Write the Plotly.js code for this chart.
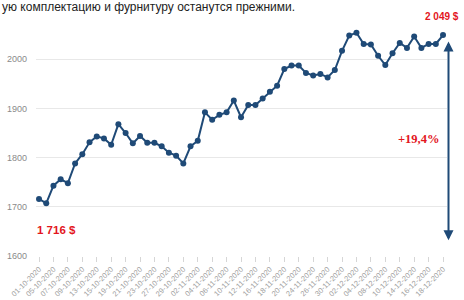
<!DOCTYPE html>
<html>
<head>
<meta charset="utf-8">
<script src="https://cdn.plot.ly/plotly-3.0.1.min.js"></script>
<style>html,body{margin:0;padding:0;background:#fff;}#chart{width:464px;height:300px;}</style>
</head>
<body>
<div id="chart"></div>
<script>
const dates = [
  "01-10-2020","02-10-2020","05-10-2020","06-10-2020","07-10-2020","08-10-2020","09-10-2020",
  "12-10-2020","13-10-2020","14-10-2020","15-10-2020","16-10-2020","19-10-2020","20-10-2020",
  "21-10-2020","22-10-2020","23-10-2020","26-10-2020","27-10-2020","28-10-2020","29-10-2020",
  "30-10-2020","02-11-2020","03-11-2020","04-11-2020","05-11-2020","06-11-2020","09-11-2020",
  "10-11-2020","11-11-2020","12-11-2020","13-11-2020","16-11-2020","17-11-2020","18-11-2020",
  "19-11-2020","20-11-2020","23-11-2020","24-11-2020","25-11-2020","26-11-2020","27-11-2020",
  "30-11-2020","01-12-2020","02-12-2020","03-12-2020","04-12-2020","07-12-2020","08-12-2020",
  "09-12-2020","10-12-2020","11-12-2020","14-12-2020","15-12-2020","16-12-2020","17-12-2020",
  "18-12-2020"
];
const prices = [
  1716,1707,1743,1756,1748,1788,1807,
  1831,1843,1839,1826,1868,1850,1829,
  1844,1830,1830,1823,1810,1804,1788,
  1823,1834,1892,1877,1887,1892,1916,
  1882,1907,1907,1920,1934,1946,1980,
  1987,1987,1972,1967,1970,1963,1978,
  2017,2048,2054,2031,2030,2007,1988,
  2012,2033,2023,2046,2023,2031,2031,
  2049
];
const tickLabels = [
  "01-10-2020","05-10-2020","07-10-2020","09-10-2020","13-10-2020","15-10-2020","19-10-2020",
  "21-10-2020","23-10-2020","27-10-2020","29-10-2020","02-11-2020","04-11-2020","06-11-2020",
  "10-11-2020","12-11-2020","16-11-2020","18-11-2020","20-11-2020","24-11-2020","26-11-2020",
  "30-11-2020","02-12-2020","04-12-2020","08-12-2020","10-12-2020","14-12-2020","16-12-2020",
  "18-12-2020"
];
const yTicks = [1600,1700,1800,1900,2000];
const headerText = "ую комплектацию и фурнитуру останутся прежними.";
const startLabel = "1 716 $";
const endLabel = "2 049 $";
const growthLabel = "+19,4%";
const arrowFrom = 2039;
const arrowTo = 1632;

const navy = "#1f4a77";
const red = "#e3161d";

const trace = {
  type: "scatter",
  mode: "lines+markers",
  x: dates,
  y: prices,
  line: {color: navy, width: 2},
  marker: {color: navy, size: 6},
  hoverinfo: "skip"
};

const layout = {
  width: 464, height: 300,
  margin: {l: 36, r: 17, t: 10, b: 44, pad: 0},
  paper_bgcolor: "#fff", plot_bgcolor: "#fff",
  showlegend: false,
  font: {family: "Liberation Sans, Arial, sans-serif", color: "#8a8a8a"},
  xaxis: {
    type: "category",
    range: [-0.42, 56.55],
    tickvals: tickLabels,
    ticktext: tickLabels,
    tickangle: -45,
    tickfont: {size: 7.5, color: "#a0a0a0"},
    ticks: "outside", ticklen: 5, tickcolor: "#d6d6d6", tickwidth: 1,
    showgrid: false, zeroline: false, showline: false,
    automargin: false
  },
  yaxis: {
    range: [1600, 2100],
    tickvals: yTicks,
    ticktext: yTicks.map(String),
    tickfont: {size: 9, color: "#8a8a8a"},
    showgrid: true, gridcolor: "#e8e8e8", gridwidth: 1,
    zeroline: false, showline: false,
    ticklabelstandoff: 8,
    automargin: false
  },
  annotations: [
    {xref: "paper", yref: "paper", x: -36/411, y: 1 + 3/246, xanchor: "left", yanchor: "middle",
     text: headerText, showarrow: false, font: {size: 12, color: "#222", family: "Liberation Sans, Arial, sans-serif"}},
    {xref: "paper", yref: "y", x: -0.002, y: 1652, xanchor: "left", yanchor: "middle",
     text: "<b>" + startLabel + "</b>", showarrow: false,
     font: {size: 11.5, color: red, family: "Liberation Sans Narrow, Arial Narrow, Liberation Sans, sans-serif"}},
    {xref: "paper", yref: "paper", x: 1 + 14/411, y: 1 - 6/246, xanchor: "right", yanchor: "middle",
     text: "<b>" + endLabel + "</b>", showarrow: false,
     font: {size: 10, color: red, family: "Liberation Sans Narrow, Arial Narrow, Liberation Sans, sans-serif"}},
    {xref: "paper", yref: "y", x: 0.988, y: 1837, xanchor: "right", yanchor: "middle",
     text: "<b>" + growthLabel + "</b>", showarrow: false,
     font: {size: 12.5, color: red, family: "Liberation Serif, DejaVu Serif, Times New Roman, serif"}},
    {xref: "paper", yref: "y", x: 1 + 1.5/411, y: arrowTo,
     axref: "pixel", ayref: "pixel", ax: 0, ay: -(arrowFrom - arrowTo) * 0.492,
     text: "", showarrow: true, arrowhead: 2, startarrowhead: 2, arrowside: "end+start",
     arrowsize: 1, arrowwidth: 2, arrowcolor: navy, standoff: 0, startstandoff: 0}
  ]
};

Plotly.newPlot("chart", [trace], layout, {staticPlot: true, displayModeBar: false});
</script>
</body>
</html>
